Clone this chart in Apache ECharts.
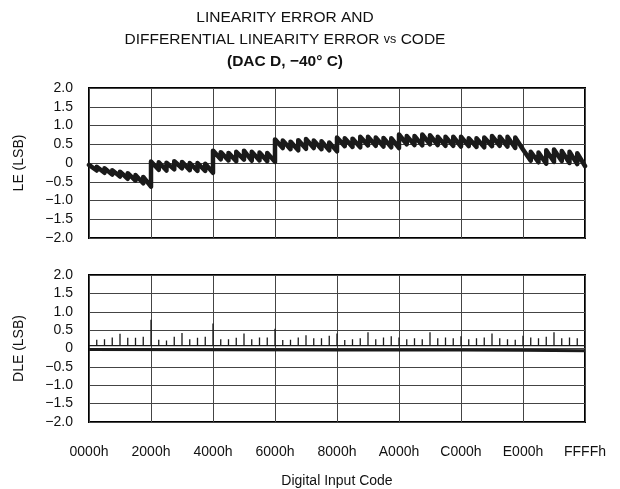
<!DOCTYPE html>
<html><head><meta charset="utf-8">
<script src="https://cdn.jsdelivr.net/npm/echarts@6/dist/echarts.min.js"></script>
<style>html,body{margin:0;padding:0;background:#fff}#c{width:620px;height:489px}</style>
</head><body><div id="c"></div>
<script>
// X axis tick labels (codes 0000h .. FFFFh, 8 divisions)
const xTickLabels = ['0000h','2000h','4000h','6000h','8000h','A000h','C000h','E000h','FFFFh'];
const yTickLabels = {'2':'2.0','1.5':'1.5','1':'1.0','0.5':'0.5','0':'0','-0.5':'\u22120.5','-1':'\u22121.0','-1.5':'\u22121.5','-2':'\u22122.0'};
const toothSize = 1024; // code width of each sawtooth segment

// LE: value at start (after jump) and at end of each 0x400-code tooth, 64 teeth
const lePeaks = [
  -0.05,-0.10,-0.14,-0.19,-0.23,-0.27,-0.32,-0.37,
   0.04, 0.02, 0.01, 0.05, 0.03, 0.00, 0.00,-0.02,
   0.33, 0.29, 0.27, 0.30, 0.33, 0.30, 0.28, 0.27,
   0.63, 0.60, 0.57, 0.61, 0.64, 0.60, 0.58, 0.55,
   0.68, 0.66, 0.65, 0.70, 0.70, 0.68, 0.67, 0.66,
   0.76, 0.72, 0.72, 0.76, 0.74, 0.70, 0.70, 0.70,
   0.70, 0.66, 0.66, 0.68, 0.72, 0.70, 0.70, 0.68,
   0.34, 0.30, 0.28, 0.34, 0.36, 0.32, 0.30, 0.26
];
const leTroughs = [
  -0.20,-0.26,-0.31,-0.36,-0.42,-0.47,-0.54,-0.63,
  -0.18,-0.20,-0.17,-0.14,-0.19,-0.21,-0.21,-0.26,
   0.10, 0.07, 0.05, 0.09, 0.06, 0.07, 0.05, 0.03,
   0.40, 0.37, 0.34, 0.38, 0.40, 0.37, 0.34, 0.31,
   0.45, 0.43, 0.42, 0.47, 0.46, 0.44, 0.42, 0.40,
   0.50, 0.48, 0.47, 0.50, 0.48, 0.46, 0.46, 0.44,
   0.45, 0.43, 0.42, 0.45, 0.46, 0.44, 0.40, 0.36,
   0.06, 0.02,-0.02, 0.03, 0.05, 0.00,-0.03,-0.08
];

// DLE: baseline, spikes at each tooth boundary (k * 0x400, k = 1..63)
const dleBase = 0.08;
const dleSpikes = [
  0.24,0.25,0.30,0.40,0.29,0.29,0.32,0.78,
  0.24,0.22,0.32,0.42,0.25,0.29,0.32,0.68,
  0.25,0.25,0.29,0.41,0.25,0.30,0.30,0.54,
  0.23,0.24,0.30,0.36,0.28,0.28,0.35,0.41,
  0.23,0.25,0.28,0.44,0.25,0.30,0.33,0.30,
  0.25,0.28,0.25,0.44,0.28,0.30,0.28,0.33,
  0.25,0.28,0.30,0.41,0.28,0.25,0.24,0.35,
  0.30,0.28,0.32,0.44,0.28,0.30,0.28
];
const dleNoiseCodes = [0, 16384, 32768, 49152, 57344, 65535];
const dleNoise = [-0.03, -0.035, -0.04, -0.04, -0.05, -0.06];

const leData = [];
lePeaks.forEach((p, k) => {
  leData.push([k * toothSize, p]);
  leData.push([k * toothSize + toothSize - 1, leTroughs[k]]);
});
const dleData = [[0, dleBase]];
dleSpikes.forEach((h, i) => {
  const c = (i + 1) * toothSize;
  dleData.push([c - 1, dleBase], [c, h], [c + 1, dleBase]);
});
dleData.push([65535, dleBase]);
const dleNoiseData = dleNoiseCodes.map((c, i) => [c, dleNoise[i]]);

const FONT = 'Liberation Sans, Arial, sans-serif';
const lbl = {color:'#111', fontFamily:FONT, fontSize:14};
function yAxis(idx, name){
  return {gridIndex:idx, type:'value', min:-2, max:2, interval:0.5,
    name:name, nameLocation:'middle', nameGap:63, nameRotate:90,
    nameTextStyle:{color:'#111', fontFamily:FONT, fontSize:14},
    axisLine:{show:false}, axisTick:{show:false},
    axisLabel:Object.assign({margin:16, formatter:v => yTickLabels[String(v)] ?? String(v)}, lbl),
    splitLine:{show:true, lineStyle:{color:'#444', width:1}}};
}
function xAxis(idx, showLabels){
  return {gridIndex:idx, type:'value', min:0, max:65536, interval:8192,
    axisLine:{show:false}, axisTick:{show:false},
    axisLabel:Object.assign({show:showLabels, margin:23, formatter:(v) => xTickLabels[Math.round(v/8192)]}, lbl),
    name: showLabels ? 'Digital Input Code' : '', nameLocation:'middle', nameGap:52,
    nameTextStyle:{color:'#111', fontFamily:FONT, fontSize:14},
    splitLine:{show:true, lineStyle:{color:'#444', width:1}}};
}
const titleText = {fontFamily:FONT, fontSize:15.5, fontWeight:'normal', color:'#111'};
const chart = echarts.init(document.getElementById('c'), null, {renderer:'canvas'});
chart.setOption({
  animation:false,
  backgroundColor:'#fff',
  title:[
    {text:'LINEARITY ERROR AND', left:285, top:10, textAlign:'center', padding:0, textStyle:titleText},
    {text:'{a|DIFFERENTIAL LINEARITY ERROR }{b|vs}{a| CODE}', left:285, top:32, textAlign:'center', padding:0,
     textStyle:{fontWeight:'normal', rich:{a:titleText, b:{fontFamily:FONT, fontSize:12.5, fontWeight:'normal', color:'#111'}}}},
    {text:'(DAC D, \u221240\u00B0 C)', left:285, top:54, textAlign:'center', padding:0,
     textStyle:{fontFamily:FONT, fontSize:15.5, fontWeight:'bold', color:'#111'}}
  ],
  grid:[
    {left:89, top:88, width:496, height:150, show:true, borderColor:'#000', borderWidth:2, backgroundColor:'transparent'},
    {left:89, top:275, width:496, height:148, show:true, borderColor:'#000', borderWidth:2, backgroundColor:'transparent'}
  ],
  xAxis:[xAxis(0,false), xAxis(1,true)],
  yAxis:[yAxis(0,'LE (LSB)'), yAxis(1,'DLE (LSB)')],
  series:[
    {type:'line', xAxisIndex:0, yAxisIndex:0, data:leData, showSymbol:false,
     lineStyle:{color:'#1a1a1a', width:4.5, join:'round', cap:'round'}},
    {type:'line', xAxisIndex:1, yAxisIndex:1, data:dleNoiseData, showSymbol:false,
     lineStyle:{color:'#1a1a1a', width:3}},
    {type:'line', xAxisIndex:1, yAxisIndex:1, data:dleData, showSymbol:false,
     lineStyle:{color:'#1a1a1a', width:1.3}}
  ]
});
</script></body></html>
